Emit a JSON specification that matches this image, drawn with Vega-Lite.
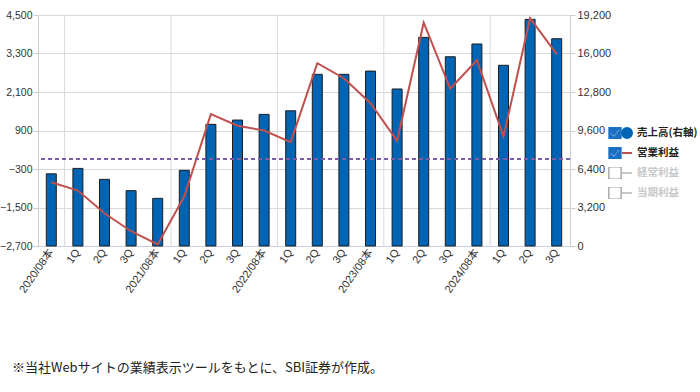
{
  "$schema": "https://vega.github.io/schema/vega-lite/v6.json",
  "width": 532,
  "height": 231,
  "autosize": {"type": "none"},
  "padding": {"left": 38, "top": 15, "right": 130, "bottom": 146},
  "background": "white",
  "config": {
    "view": {"stroke": null},
    "font": "Liberation Sans, Noto Sans CJK JP, sans-serif",
    "axis": {
      "labelFont": "Liberation Sans, Noto Sans CJK JP, sans-serif",
      "labelColor": "#333333",
      "labelFontSize": 11,
      "gridColor": "#d9d9d9",
      "domainColor": "#cccccc",
      "tickColor": "#cccccc",
      "title": null
    }
  },
  "title": {
    "text": "※当社Webサイトの業績表示ツールをもとに、SBI証券が作成。",
    "orient": "bottom",
    "anchor": "start",
    "frame": "group",
    "dx": -26,
    "offset": 68,
    "fontSize": 13,
    "fontWeight": "normal",
    "font": "Noto Sans CJK JP",
    "color": "#222222"
  },
  "data": {
    "values": [
      {"key": "2020/08本", "sales": 6000, "op": -715},
      {"key": "2021/08 1Q", "sales": 6450, "op": -973},
      {"key": "2021/08 2Q", "sales": 5540, "op": -1680},
      {"key": "2021/08 3Q", "sales": 4600, "op": -2240},
      {"key": "2021/08本", "sales": 3960, "op": -2650},
      {"key": "2022/08 1Q", "sales": 6290, "op": -1150},
      {"key": "2022/08 2Q", "sales": 10110, "op": 1410},
      {"key": "2022/08 3Q", "sales": 10470, "op": 1050},
      {"key": "2022/08本", "sales": 10940, "op": 900},
      {"key": "2023/08 1Q", "sales": 11240, "op": 540},
      {"key": "2023/08 2Q", "sales": 14270, "op": 3000},
      {"key": "2023/08 3Q", "sales": 14270, "op": 2530},
      {"key": "2023/08本", "sales": 14540, "op": 1750},
      {"key": "2024/08 1Q", "sales": 13050, "op": 580},
      {"key": "2024/08 2Q", "sales": 17340, "op": 4260},
      {"key": "2024/08 3Q", "sales": 15730, "op": 2200},
      {"key": "2024/08本", "sales": 16790, "op": 3090},
      {"key": "2025/08 1Q", "sales": 15020, "op": 715},
      {"key": "2025/08 2Q", "sales": 18840, "op": 4400},
      {"key": "2025/08 3Q", "sales": 17230, "op": 3280}
    ]
  },
  "layer": [
    {
      "mark": {"type": "rule", "color": "#d9d9d9", "strokeWidth": 1},
      "encoding": {
        "x": {"field": "key", "type": "nominal", "sort": null, "bandPosition": 1,
              "scale": {"paddingInner": 0, "paddingOuter": 0},
              "axis": {"labelAngle": -55, "ticks": false, "domainColor": "#c5cfe0", "labelPadding": 4, "labelOverlap": false,
                       "labelExpr": "indexof(datum.value,'本')>=0 ? datum.value : slice(datum.value,-2)"}},
        "strokeOpacity": {"condition": {"test": "indexof(datum.key,'本')>=0", "value": 1}, "value": 0},
        "fill": {"datum": "cb1", "type": "nominal",
          "scale": {"domain": ["cb1", "cb2", "cb3", "cb4"], "range": ["#1a6fc4", "#1a6fc4", "#ffffff", "#ffffff"]},
          "legend": {
            "title": null, "orient": "none", "legendX": 570, "legendY": 112,
            "labelExpr": "''", "clipHeight": 12, "rowPadding": 8, "labelFontSize": 10.5,
            "symbolSize": 150,
            "symbolType": {"expr": "(datum.value === 'cb1' || datum.value === 'cb2') ? 'M-1,-1H1V1H-1ZM-0.65,-0.05L-0.78,0.1L-0.2,0.65L0.72,-0.4L0.6,-0.55L-0.2,0.4Z' : 'square'"},
            "symbolStrokeColor": {"expr": "(datum.value === 'cb1' || datum.value === 'cb2') ? '#1a6fc4' : '#808080'"},
            "symbolStrokeWidth": 1
          }
        }
      }
    },
    {
      "layer": [
        {
          "mark": {"type": "bar", "size": 10},
          "encoding": {
            "x": {"field": "key", "type": "nominal", "sort": null},
            "y": {"field": "sales", "type": "quantitative",
                  "scale": {"domain": [0, 19200], "nice": false, "zero": true},
                  "axis": {"orient": "right", "values": [0, 3200, 6400, 9600, 12800, 16000, 19200], "tickCount": 10, "format": ",.0f", "grid": false, "tickSize": 5, "labelPadding": 2, "labelOverlap": false}},
            "color": {"datum": "売上高(右軸)", "type": "nominal",
              "scale": {"domain": ["売上高(右軸)", "営業利益", "経常利益", "当期利益"], "range": ["#0064B4", "#C0504D", "#c8c8c8", "#c8c8c8"]},
              "legend": {
                "title": null, "orient": "none", "legendX": 583, "legendY": 112,
                "symbolSize": 100, "labelFontSize": 10.5, "labelFontWeight": "bold", "labelFont": "Noto Sans CJK JP",
                "rowPadding": 8, "clipHeight": 12, "labelOffset": 4,
                "symbolType": {"expr": "datum.value === '売上高(右軸)' ? 'circle' : 'stroke'"},
                "symbolStrokeColor": {"expr": "datum.value === '売上高(右軸)' ? '#0064B4' : (datum.value === '営業利益' ? '#C0504D' : '#c8c8c8')"},
                "symbolStrokeWidth": 2,
                "labelColor": {"expr": "(datum.value === '経常利益' || datum.value === '当期利益') ? '#c8c8c8' : '#222222'"}
              }
            }
          }
        },
        {
          "mark": {"type": "bar", "size": 10, "filled": false, "stroke": "#1e1e1e", "strokeWidth": 1},
          "encoding": {
            "x": {"field": "key", "type": "nominal", "sort": null},
            "y": {"field": "sales", "type": "quantitative"}
          }
        }
      ]
    },
    {
      "layer": [
        {
          "mark": {"type": "line", "strokeWidth": 2},
          "encoding": {
            "x": {"field": "key", "type": "nominal", "sort": null},
            "y": {"field": "op", "type": "quantitative",
                  "scale": {"domain": [-2700, 4500], "nice": false, "zero": false},
                  "axis": {"orient": "left", "values": [-2700, -1500, -300, 900, 2100, 3300, 4500], "tickCount": 10, "format": ",.0f", "grid": true, "tickSize": 5, "labelPadding": 1, "labelFontSize": 10.5, "labelOverlap": false}},
            "color": {"datum": "営業利益", "type": "nominal"}
          }
        },
        {
          "mark": {"type": "rule", "strokeDash": [4, 3], "color": "#7b5ea7", "strokeWidth": 1.2},
          "encoding": {"y": {"datum": 0, "type": "quantitative"}}
        }
      ]
    }
  ],
  "resolve": {"scale": {"y": "independent"}}
}
